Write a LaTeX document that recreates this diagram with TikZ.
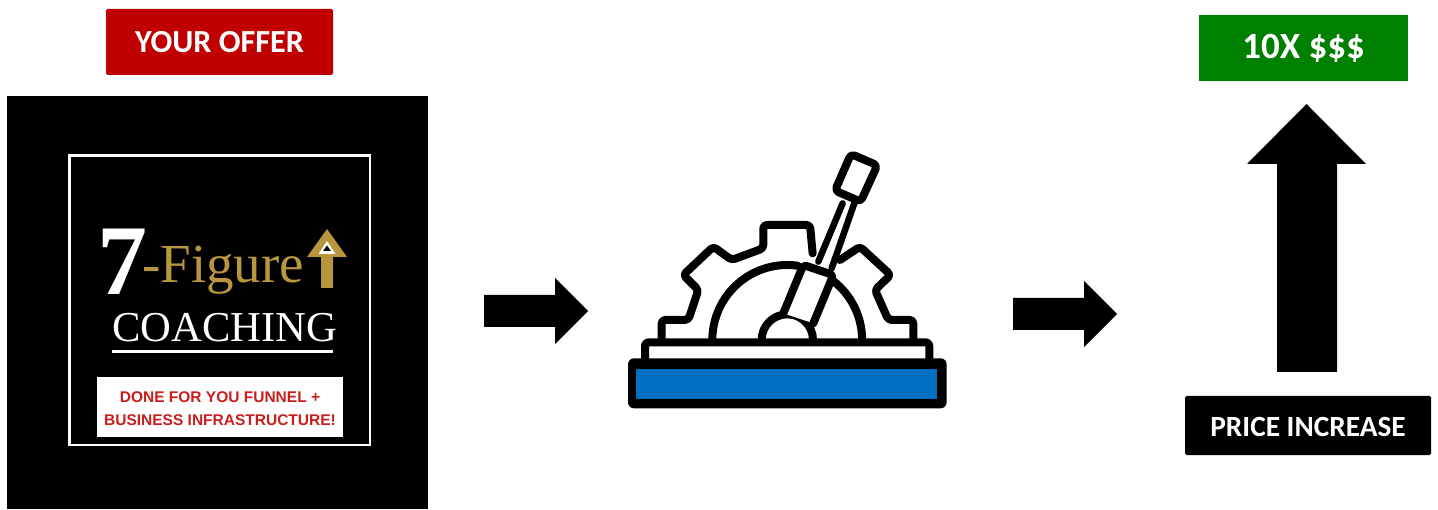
\documentclass[tikz,border=0pt]{standalone}
\usepackage{fontspec}
\setmainfont{Liberation Serif}
\newfontfamily\carl{Carlito}
\newfontfamily\arial{Liberation Sans}
\definecolor{offerred}{HTML}{C00000}
\definecolor{moneygreen}{HTML}{008000}
\definecolor{gold}{HTML}{B8963E}
\definecolor{donered}{HTML}{C81E1E}
\definecolor{leverblue}{HTML}{0070C0}
\tikzset{
  labelbox/.style={inner sep=0pt,text=white,font=\carl\bfseries,align=center},
  blockarrow/.style={fill=black,draw=none},
  iconline/.style={draw=black,line width=8pt,line join=round,line cap=round,rounded corners=3.5pt}
}
\begin{document}
\begin{tikzpicture}[x=1pt,y=-1pt]
\useasboundingbox (0,0) rectangle (1438,510);
% labelled boxes
\node[labelbox,fill=offerred,rounded corners=1.5pt,minimum width=227pt,minimum height=66pt,font=\carl\bfseries\fontsize{32.2}{35}\selectfont] (offer) at (219.5,42) {YOUR OFFER};
\node[labelbox,fill=moneygreen,minimum width=209pt,minimum height=66pt,font=\carl\bfseries\fontsize{37}{40}\selectfont] (money) at (1303.5,48) {10X \$\$\$};
\node[labelbox,fill=black,rounded corners=1.5pt,minimum width=246pt,minimum height=59pt,font=\carl\bfseries\fontsize{29.3}{32}\selectfont,text height=23pt,text depth=0pt] (price) at (1308,425.5) {PRICE INCREASE};
% logo
\fill[black] (7,96) rectangle (428,509);
\draw[white,line width=2.6pt] (69.5,155.5) rectangle (370,445);
\node[inner sep=0pt,text=white,font=\bfseries\fontsize{100}{100}\selectfont,anchor=base west] (seven) at (97,295) {7};
\node[inner sep=0pt,text=gold,font=\fontsize{55}{55}\selectfont,anchor=base west] (figure) at (142,283) {-Figure};
\node[inner sep=0pt,text=white,font=\fontsize{42.6}{44}\selectfont,anchor=base west] (coaching) at (112,342) {COACHING};
\draw[white,line width=2.5pt] (112,351.5) -- (333,351.5);
\fill[gold] (327,229) -- (347,257) -- (333,257) -- (333,288) -- (321,288) -- (321,257) -- (307,257) -- cycle;
\fill[white] (327,241) -- (335.5,254) -- (318.5,254) -- cycle;
\fill[black] (327,245.5) -- (331,251) -- (323,251) -- cycle;
\node[fill=white,inner sep=0pt,minimum width=246pt,minimum height=60pt,text=donered,font=\arial\bfseries\fontsize{15.5}{23}\selectfont,align=center] (done) at (220,407) {\rule{0pt}{15pt}DONE FOR YOU FUNNEL +\\BUSINESS INFRASTRUCTURE!};
% block arrows
\fill[blockarrow] (484,295) -- (555,295) -- (555,278) -- (588,311) -- (555,344) -- (555,327) -- (484,327) -- cycle;
\fill[blockarrow] (1013,298) -- (1084,298) -- (1084,281) -- (1117,314) -- (1084,347) -- (1084,330) -- (1013,330) -- cycle;
\fill[blockarrow] (1277,372) -- (1277,164) -- (1247,164) -- (1306.5,104) -- (1366,164) -- (1337,164) -- (1337,372) -- cycle;
% lever icon
\begin{scope}[shift={(620,140)},x=0.3333pt,y=-0.3333pt]
  % gear
  \draw[iconline] (125,600) -- (125,540) -- (205,540) -- (235,450) -- (190,405) -- (280,320) -- (335,360) -- (430,325) -- (430,255) -- (570,255) -- (578,340);
  \draw[iconline] (660,360) -- (720,320) -- (812,405) -- (765,450) -- (805,540) -- (880,540) -- (880,600);
  % dial arcs
  \draw[iconline] (277,600) arc[start angle=180,end angle=278,radius=225];
  \draw[iconline] (640,423) arc[start angle=308,end angle=360,radius=225];
  \draw[iconline] (425,600) arc[start angle=180,end angle=360,radius=77];
  % lever
  \draw[iconline,line width=6.5pt] (595,365) -- (668,190);
  \draw[iconline,line width=6.5pt] (635,385) -- (703,190);
  \draw[iconline,fill=white] (490,520) -- (550,375) -- (640,405) -- (580,550);
  \draw[iconline,fill=white,rounded corners=4pt] (693,42) -- (772,76) -- (722,185) -- (645,152) -- cycle;
  % base
  \draw[iconline,fill=white] (75,660) -- (75,607) -- (928,607) -- (928,660);
  \fill[black,rounded corners=6pt] (24,655) rectangle (980,805);
  \fill[leverblue] (48,688) rectangle (952,778);
\end{scope}
\end{tikzpicture}
\end{document}
